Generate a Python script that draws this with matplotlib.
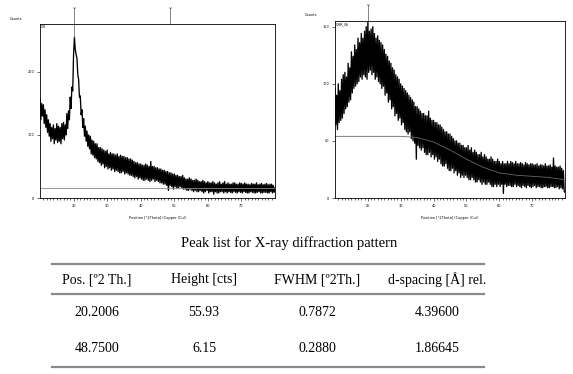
import matplotlib
matplotlib.use('Agg')
import matplotlib.pyplot as plt
from matplotlib.lines import Line2D
import numpy as np

# two theta positions, 0.25 degree step
two_theta = np.arange(10, 80.001, 0.25)

counts_left = [158, 124, 150, 130, 148, 118, 140, 112, 132, 104, 124, 98,
               118, 90, 112, 94, 116, 86, 110, 92, 118, 88, 114, 90,
               112, 86, 118, 94, 120, 92, 116, 100, 134, 110, 138, 124,
               160, 142, 176, 170, 228, 255, 236, 228, 222, 196, 188, 160,
               162, 132, 140, 112, 126, 98, 114, 90, 106, 82, 100, 78,
               98, 70, 92, 68, 90, 64, 86, 62, 86, 58, 80, 56,
               80, 52, 78, 54, 76, 48, 74, 50, 76, 46, 70, 48,
               72, 44, 70, 46, 70, 42, 68, 44, 70, 42, 66, 40,
               68, 40, 66, 42, 66, 38, 64, 40, 64, 38, 62, 36,
               62, 36, 60, 34, 58, 32, 56, 34, 56, 30, 54, 32,
               54, 30, 52, 28, 52, 28, 54, 30, 52, 28, 50, 26,
               58, 28, 50, 30, 50, 26, 48, 28, 48, 26, 46, 24,
               46, 24, 44, 22, 44, 22, 42, 20, 42, 12, 40, 20,
               40, 18, 38, 14, 38, 18, 36, 16, 36, 16, 34, 18,
               34, 16, 36, 14, 32, 14, 30, 12, 30, 12, 32, 14,
               30, 12, 28, 10, 28, 12, 30, 10, 28, 10, 26, 12,
               26, 10, 28, 8, 26, 10, 24, 12, 26, 8, 24, 10,
               24, 10, 26, 6, 24, 10, 22, 8, 24, 8, 26, 10,
               22, 10, 24, 8, 26, 10, 22, 8, 24, 10, 22, 9,
               22, 8, 24, 10, 24, 9, 22, 8, 22, 10, 24, 9,
               23, 8, 22, 10, 24, 9, 22, 8, 22, 8, 21, 10,
               23, 9, 22, 8, 22, 8, 24, 9, 21, 10, 22, 8,
               23, 8, 21, 9, 22, 9, 23, 8, 21, 8, 22, 10,
               22, 8, 20, 9, 16]

counts_right = [96, 64, 90, 60, 100, 66, 94, 68, 104, 70, 108, 74,
                110, 78, 106, 80, 118, 84, 114, 86, 128, 92, 124, 96,
                134, 98, 130, 100, 140, 102, 136, 106, 144, 104, 140, 108,
                146, 106, 150, 104, 154, 110, 146, 112, 148, 108, 150, 110,
                144, 104, 140, 106, 142, 102, 138, 100, 136, 96, 134, 98,
                130, 90, 126, 92, 124, 84, 120, 86, 118, 78, 114, 80,
                112, 72, 108, 74, 106, 68, 104, 70, 100, 64, 98, 66,
                96, 60, 94, 58, 92, 56, 90, 58, 88, 52, 86, 50,
                84, 48, 80, 34, 80, 46, 78, 44, 76, 42, 74, 44,
                74, 40, 72, 38, 72, 38, 76, 40, 70, 36, 68, 38,
                68, 34, 66, 36, 66, 32, 64, 34, 64, 30, 62, 28,
                60, 28, 58, 30, 58, 26, 56, 24, 56, 24, 54, 26,
                52, 22, 50, 24, 50, 20, 48, 22, 48, 18, 46, 20,
                46, 18, 44, 20, 44, 18, 46, 16, 42, 16, 44, 18,
                40, 16, 42, 14, 40, 14, 38, 16, 38, 14, 40, 12,
                36, 14, 38, 12, 36, 12, 34, 14, 34, 12, 36, 10,
                34, 10, 32, 12, 32, 10, 34, 12, 32, 10, 30, 12,
                32, 4, 30, 12, 30, 10, 32, 11, 30, 11, 32, 10,
                31, 10, 30, 12, 32, 10, 30, 11, 30, 10, 31, 9,
                30, 11, 29, 10, 31, 9, 30, 11, 29, 10, 30, 9,
                30, 10, 29, 11, 29, 9, 30, 10, 28, 10, 29, 9,
                29, 9, 28, 10, 30, 10, 28, 9, 28, 9, 29, 10,
                27, 10, 35, 9, 28, 9, 27, 10, 27, 8, 28, 9,
                26, 8, 24, 6, 5]

# fitted background of the right scan
bg_x = [10, 30, 35, 40, 45, 50, 55, 60, 65, 70, 75, 80]
bg_y = [54, 54, 53, 49, 42, 34, 27, 22, 20, 19, 18, 16]
base_left = 15.5

peaks_left = [20.2006, 48.75]
peak_tops_left = [255, None]
peaks_right = [20.1]

# peak table
headers = ['Pos. [º2 Th.]', 'Height [cts]', 'FWHM [º2Th.]', 'd-spacing [Å] rel.']
row1 = ['20.2006', '55.93', '0.7872', '4.39600']
row2 = ['48.7500', '6.15', '0.2880', '1.86645']

W, H = 573, 374
fig = plt.figure(figsize=(W / 100, H / 100), dpi=100)


def pos(l, t, r, b):
    return [l / W, 1 - b / H, (r - l) / W, (b - t) / H]


def xrd_axes(rect, y, ymax, yticks, label):
    ax = fig.add_axes(rect)
    ax.plot(two_theta, y, color='black', lw=0.95)
    ax.set_xlim(10, 80)
    ax.set_ylim(0, ymax)
    ax.set_xticks([20, 30, 40, 50, 60, 70])
    ax.set_xticks(np.arange(11, 80, 1), minor=True)
    ax.set_yticks(yticks)
    ax.tick_params(axis='both', which='major', labelsize=2.5, length=2.5, width=0.4, pad=1.5)
    ax.tick_params(axis='x', which='minor', length=1.5, width=0.4)
    for s in ax.spines.values():
        s.set_linewidth(0.6)
    ax.set_xlabel('Position [°2Theta] (Copper (Cu))', fontsize=2.5, labelpad=6)
    ax.text(0.005, 0.995, label, transform=ax.transAxes, fontsize=2.5, va='top', ha='left')
    ax.text(-0.13, 1.02, 'Counts', transform=ax.transAxes, fontsize=2.5, va='bottom')
    return ax


ax1 = xrd_axes(pos(40, 24, 275, 198), counts_left, 276, [0, 100, 200], 'CH')
ax1.axhline(base_left, color='#888888', lw=0.6)
for p, top in zip(peaks_left, peak_tops_left):
    y0 = top if top else 276
    ax1.plot([p, p], [y0, 276 * 1.08], color='#555555', lw=0.5, clip_on=False)
    ax1.plot([p], [276 * 1.09], marker='1', color='#555555', ms=2.5, mew=0.5, clip_on=False)

ax2 = xrd_axes(pos(335, 21, 565, 198), counts_right, 155, [0, 50, 100, 150], 'CHR_Ni')
ax2.plot(bg_x, bg_y, color='#666666', lw=0.6)
for p in peaks_right:
    ax2.plot([p, p], [150, 155 * 1.08], color='#555555', lw=0.5, clip_on=False)
    ax2.plot([p], [155 * 1.09], marker='1', color='#555555', ms=2.5, mew=0.5, clip_on=False)

# table below the plots
serif = ['Liberation Serif', 'DejaVu Serif']
fig.text(289 / W, 1 - 243 / H, 'Peak list for X-ray diffraction pattern',
         ha='center', va='center', fontsize=10.5, family=serif)

for yy in [264, 294, 367]:
    fig.add_artist(Line2D([52 / W, 484 / W], [1 - yy / H, 1 - yy / H],
                          color='#8a8a8a', lw=1.6))

col_x = [97, 204, 317, 437]
for cx, h, a, b in zip(col_x, headers, row1, row2):
    fig.text(cx / W, 1 - 280 / H, h, ha='center', va='center', fontsize=10, family=serif)
    fig.text(cx / W, 1 - 313 / H, a, ha='center', va='center', fontsize=10, family=serif)
    fig.text(cx / W, 1 - 349 / H, b, ha='center', va='center', fontsize=10, family=serif)

fig.savefig('out.png', dpi=100)
